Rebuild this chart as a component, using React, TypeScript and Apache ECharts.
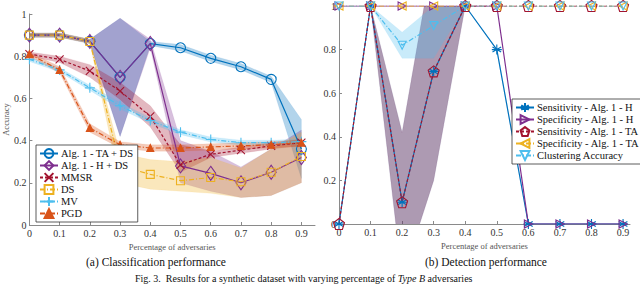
import React, { useEffect, useRef } from "react";
import * as echarts from "echarts";

const X = [0, 0.1, 0.2, 0.3, 0.4, 0.5, 0.6, 0.7, 0.8, 0.9];
const TICKS = [0, 0.1, 0.2, 0.3, 0.4, 0.5, 0.6, 0.7, 0.8, 0.9];
const YTICKS = [0, 0.2, 0.4, 0.6, 0.8, 1];

// (a) Classification performance
const taDS = [0.90, 0.90, 0.87, 0.70, 0.86, 0.84, 0.79, 0.75, 0.69, 0.36];
const taDSLo = [0.89, 0.89, 0.86, 0.42, 0.85, 0.825, 0.775, 0.735, 0.675, 0.22];
const taDSHi = [0.91, 0.91, 0.88, 0.98, 0.87, 0.855, 0.805, 0.765, 0.705, 0.50];
const hDS = [0.90, 0.90, 0.87, 0.70, 0.86, 0.28, 0.245, 0.20, 0.25, 0.32];
const hDSLo = [0.89, 0.89, 0.86, 0.42, 0.84, 0.20, 0.16, 0.13, 0.14, 0.20];
const hDSHi = [0.91, 0.91, 0.88, 0.98, 0.88, 0.40, 0.35, 0.275, 0.36, 0.45];
const mmsr = [0.81, 0.785, 0.73, 0.635, 0.515, 0.285, 0.335, 0.355, 0.375, 0.39];
const mmsrLo = [0.80, 0.77, 0.70, 0.595, 0.465, 0.25, 0.32, 0.34, 0.36, 0.375];
const mmsrHi = [0.82, 0.80, 0.76, 0.675, 0.565, 0.38, 0.35, 0.37, 0.39, 0.405];
const ds = [0.90, 0.90, 0.87, 0.28, 0.24, 0.21, 0.225, 0.205, 0.25, 0.325];
const dsLo = [0.89, 0.89, 0.86, 0.20, 0.17, 0.16, 0.15, 0.13, 0.14, 0.20];
const dsHi = [0.91, 0.91, 0.88, 0.34, 0.31, 0.30, 0.32, 0.27, 0.36, 0.44];
const mv = [0.785, 0.735, 0.65, 0.565, 0.495, 0.44, 0.405, 0.39, 0.39, 0.395];
const mvLo = [0.775, 0.725, 0.638, 0.55, 0.482, 0.428, 0.393, 0.378, 0.378, 0.383];
const mvHi = [0.795, 0.745, 0.662, 0.58, 0.508, 0.452, 0.417, 0.402, 0.402, 0.407];
const pgd = [0.81, 0.735, 0.46, 0.38, 0.365, 0.365, 0.37, 0.375, 0.38, 0.39];
const pgdLo = [0.80, 0.72, 0.44, 0.365, 0.35, 0.35, 0.355, 0.36, 0.365, 0.375];
const pgdHi = [0.82, 0.75, 0.48, 0.395, 0.38, 0.38, 0.385, 0.39, 0.395, 0.405];

// (b) Detection performance
const sensH = [0, 1, 0.1, 0.7, 1, 0.8, 0, 0, 0, 0];
const sensHLo = [0, 1, -0.25, 0.2, 1, 0.8, 0, 0, 0, 0];
const sensHHi = [0, 1, 0.42, 1.25, 1, 0.8, 0, 0, 0, 0];
const specH = [1, 1, 1, 1, 1, 1, 0, 0, 0, 0];
const sensTA = [0, 1, 0.1, 0.7, 1, 1, 1, 1, 1, 1];
const sensTALo = [0, 1, -0.25, 0.2, 1, 1, 1, 1, 1, 1];
const sensTAHi = [0, 1, 0.42, 1.25, 1, 1, 1, 1, 1, 1];
const specTA = [1, 1, 1, 1, 1, 1, 1, 1, 1, 1];
const clus = [1, 1, 0.82, 0.91, 1, 1, 1, 1, 1, 1];
const clusLo = [1, 1, 0.76, 0.76, 1, 1, 1, 1, 1, 1];
const clusHi = [1, 1, 0.88, 1.0, 1, 1, 1, 1, 1, 1];

const C = {
  blue: "#0072BD",
  orange: "#D95319",
  yellow: "#EDB120",
  purple: "#7E2F8E",
  lblue: "#4DBEEE",
  red: "#A2142F",
};

const SYM = {
  x: "path://M0,0L10,10M0,10L10,0",
  plus: "path://M5,0L5,10M0,5L10,5",
  star: "path://M5,0L5,10M0.67,2.5L9.33,7.5M0.67,7.5L9.33,2.5M0,5L10,5",
  pent: "path://M5,0L9.76,3.45L7.94,9.05L2.06,9.05L0.24,3.45Z",
  right: "path://M0,0L10,5L0,10Z",
  left: "path://M10,0L0,5L10,10Z",
  down: "path://M0,0L10,0L5,10Z",
};

const FONT = "'Liberation Serif', 'Times New Roman', 'DejaVu Serif', serif";

const pts = (v: number[]) => X.map((x, i) => [x, v[i]]);

function rgba(hex: string, a: number) {
  const n = parseInt(hex.slice(1), 16);
  return `rgba(${(n >> 16) & 255},${(n >> 8) & 255},${n & 255},${a})`;
}

function band(id: string, axis: number, lo: number[], hi: number[], color: string, alpha = 0.3) {
  return {
    type: "custom",
    name: id,
    xAxisIndex: axis,
    yAxisIndex: axis,
    clip: true,
    silent: true,
    z: 1,
    data: X.map((x, i) => [x, lo[i], hi[i]]),
    encode: { x: 0, y: [1, 2] },
    renderItem: (params: any, api: any) => {
      if (params.dataIndex !== 0) return null;
      const top = X.map((x, i) => api.coord([x, hi[i]]));
      const bot = X.map((x, i) => api.coord([x, lo[i]])).reverse();
      return {
        type: "polygon",
        shape: { points: [...top, ...bot] },
        style: { fill: rgba(color, alpha), stroke: rgba(color, 0.15), lineWidth: 0.5 },
        silent: true,
      };
    },
  };
}

function line(
  name: string,
  axis: number,
  v: number[],
  color: string,
  symbol: string,
  size: any,
  dash: any,
  fill = "transparent"
) {
  return {
    type: "line",
    name,
    xAxisIndex: axis,
    yAxisIndex: axis,
    data: pts(v),
    symbol,
    symbolSize: size,
    showAllSymbol: true,
    lineStyle: { color, width: 1.2, type: dash },
    itemStyle: { color: fill, borderColor: color, borderWidth: 1.1 },
    z: 3,
  };
}

const leftNames = ["Alg. 1 - TA + DS", "Alg. 1 - H + DS", "MMSR", "DS", "MV", "PGD"];
const rightNames = [
  "Sensitivity - Alg. 1 - H",
  "Specificity - Alg. 1 - H",
  "Sensitivity - Alg. 1 - TA",
  "Specificity - Alg. 1 - TA",
  "Clustering Accuracy",
];

const fmt = (v: number) => (Math.abs(v) < 1e-9 ? "0" : Math.abs(v - 1) < 1e-9 ? "1" : String(Math.round(v * 10) / 10));

function xAxis(gridIndex: number, max: number) {
  return {
    type: "value",
    gridIndex,
    min: 0,
    max,
    interval: 0.1,
    name: "Percentage of adversaries",
    nameLocation: "middle",
    nameGap: 17,
    nameTextStyle: { fontFamily: FONT, fontSize: 8.5, color: "#555" },
    axisLine: { show: true, onZero: false, lineStyle: { color: "#8a8a8a", width: 1 } },
    axisTick: { show: true, inside: true, length: 3, customValues: TICKS, lineStyle: { color: "#8a8a8a" } },
    axisLabel: { customValues: TICKS, formatter: fmt, fontFamily: FONT, fontSize: 10, color: "#333", margin: 3 },
    splitLine: { show: false },
  };
}

function yAxis(gridIndex: number, name: string) {
  return {
    type: "value",
    gridIndex,
    min: 0,
    max: 1,
    interval: 0.2,
    name,
    nameLocation: "middle",
    nameGap: 17,
    nameRotate: 90,
    nameTextStyle: { fontFamily: FONT, fontSize: 8.5, color: "#555" },
    axisLine: { show: true, onZero: false, lineStyle: { color: "#8a8a8a", width: 1 } },
    axisTick: { show: true, inside: true, length: 3, customValues: YTICKS, lineStyle: { color: "#8a8a8a" } },
    axisLabel: { customValues: YTICKS, formatter: fmt, fontFamily: FONT, fontSize: 10, color: "#333", margin: 3 },
    splitLine: { show: false },
  };
}

export default function App() {
  const ref = useRef<HTMLDivElement>(null);
  useEffect(() => {
    if (!ref.current) return;
    const chart = echarts.init(ref.current, null, { renderer: "svg" });
    const series: any[] = [
      band("b_ta", 0, taDSLo, taDSHi, C.blue),
      band("b_h", 0, hDSLo, hDSHi, C.purple),
      band("b_mmsr", 0, mmsrLo, mmsrHi, C.red),
      band("b_ds", 0, dsLo, dsHi, C.yellow),
      band("b_mv", 0, mvLo, mvHi, C.lblue),
      band("b_pgd", 0, pgdLo, pgdHi, C.orange),
      line(leftNames[0], 0, taDS, C.blue, "circle", 10, "solid"),
      line(leftNames[1], 0, hDS, C.purple, "diamond", [10, 14], "solid"),
      line(leftNames[2], 0, mmsr, C.red, SYM.x, 8, [3, 2]),
      line(leftNames[3], 0, ds, C.yellow, "rect", 8, [5, 2, 1, 2]),
      line(leftNames[4], 0, mv, C.lblue, SYM.plus, 10, [5, 2, 1, 2]),
      line(leftNames[5], 0, pgd, C.orange, "triangle", 7, [5, 2, 1, 2], C.orange),
      band("b_sh", 1, sensHLo, sensHHi, C.blue),
      band("b_sta", 1, sensTALo, sensTAHi, C.red),
      band("b_cl", 1, clusLo, clusHi, C.lblue),
      line(rightNames[0], 1, sensH, C.blue, SYM.star, 10, "solid"),
      line(rightNames[1], 1, specH, C.purple, SYM.right, 8, "solid"),
      line(rightNames[2], 1, sensTA, C.red, SYM.pent, 11, [3, 2]),
      line(rightNames[3], 1, specTA, C.yellow, SYM.left, 8, [5, 2, 1, 2]),
      line(rightNames[4], 1, clus, C.lblue, SYM.down, 8, [5, 2, 1, 2]),
    ];
    const legendBase = {
      orient: "vertical",
      itemWidth: 18,
      itemHeight: 11,
      itemGap: 1,
      padding: [3, 4, 3, 3],
      borderColor: "#333",
      borderWidth: 0.8,
      backgroundColor: "#fff",
      textStyle: { fontFamily: FONT, fontSize: 10.5, color: "#111", padding: [0, 0, 0, -2] },
      selectedMode: false,
    };
    chart.setOption({
      animation: false,
      backgroundColor: "#fff",
      grid: [
        { left: 28, top: 14, width: 287, height: 211 },
        { left: 339, top: 6, width: 291, height: 218 },
      ],
      xAxis: [xAxis(0, 0.945), xAxis(1, 0.922)],
      yAxis: [yAxis(0, "Accuracy"), yAxis(1, "")],
      legend: [
        { ...legendBase, data: leftNames, left: 36, top: 145, z: 10 },
        { ...legendBase, data: rightNames, left: 512, top: 99, z: 10 },
      ],
      series,
      graphic: [
        {
          type: "text",
          left: 154 - 68,
          top: 256,
          style: { text: "(a) Classification performance", fontFamily: FONT, fontSize: 11.5, fill: "#111" },
        },
        {
          type: "text",
          left: 486 - 61,
          top: 256,
          style: { text: "(b) Detection performance", fontFamily: FONT, fontSize: 11.5, fill: "#111" },
        },
        {
          type: "text",
          left: 135,
          top: 273,
          style: {
            rich: {
              n: { fontFamily: FONT, fontSize: 10, fill: "#111" },
              i: { fontFamily: FONT, fontStyle: "italic", fontSize: 10, fill: "#111" },
            },
            text: "{n|Fig. 3.  Results for a synthetic dataset with varying percentage of }{i|Type B}{n| adversaries}",
          },
        },
      ],
    });
    return () => chart.dispose();
  }, []);
  return <div ref={ref} style={{ width: 640, height: 286, position: "absolute", left: 0, top: 0 }} />;
}
